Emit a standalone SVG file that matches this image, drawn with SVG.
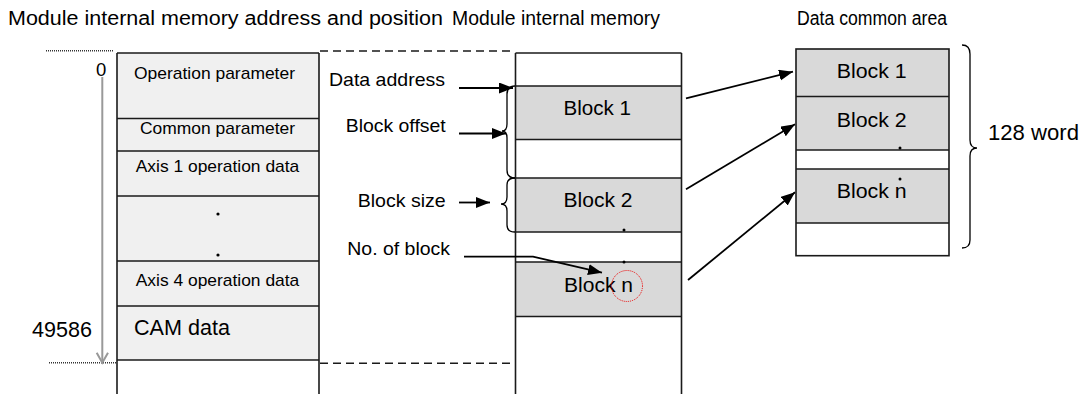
<svg xmlns="http://www.w3.org/2000/svg" width="1083" height="394" viewBox="0 0 1083 394">
<style>
  text { font-family: "Liberation Sans", Arial, sans-serif; fill: #000; }
  .title { font-size: 19.5px; }
  .lt { font-size: 17px; }
  .lbl { font-size: 18.5px; }
  .blk { font-size: 20.5px; }
  .big { font-size: 21.5px; }
  .box { stroke: #1a1a1a; stroke-width: 1.6; }
  .ln { stroke: #1a1a1a; stroke-width: 1.6; fill: none; }
  .lgt { fill: #f0f0f0; }
  .gry { fill: #d9d9d9; }
  .wht { fill: #ffffff; }
  .dash { stroke: #1a1a1a; stroke-width: 1.6; stroke-dasharray: 8 5; fill: none; }
  .dot { stroke: #333; stroke-width: 1.6; stroke-dasharray: 1 1; fill: none; }
  .arr { stroke: #000; stroke-width: 1.8; fill: none; marker-end: url(#ah); }
  .brace { stroke: #000; stroke-width: 1.3; fill: none; }
</style>
<defs>
  <marker id="ah" markerUnits="userSpaceOnUse" markerWidth="15" markerHeight="12" refX="14" refY="5.5" orient="auto">
    <path d="M0,0 L14,5.5 L0,11 Z" fill="#000"/>
  </marker>
</defs>
<rect x="0" y="0" width="1083" height="394" fill="#fff"/>

<g id="titles">
  <text class="title" x="8" y="25" textLength="435" lengthAdjust="spacingAndGlyphs">Module internal memory address and position</text>
  <text class="title" x="452" y="25" textLength="208" lengthAdjust="spacingAndGlyphs">Module internal memory</text>
  <text class="title" x="797" y="25" textLength="150" lengthAdjust="spacingAndGlyphs">Data common area</text>
</g>

<g id="address-scale">
  <line class="dot" x1="46" y1="50.7" x2="114" y2="50.7"/>
  <line class="dot" x1="49" y1="362.7" x2="117" y2="362.7"/>
  <line x1="102.3" y1="77" x2="102.3" y2="362" stroke="#999" stroke-width="2"/>
  <polyline points="96.7,352.7 102.3,362.7 108,352.7" stroke="#999" stroke-width="2" fill="none"/>
  <text x="96" y="76" font-size="18.5" fill="#555">0</text>
  <text class="big" x="32" y="336.5" textLength="60" lengthAdjust="spacingAndGlyphs">49586</text>
</g>

<g id="module-memory-map">
  <rect class="lgt" x="117" y="53" width="202" height="307"/>
  <line class="ln" x1="117" y1="53" x2="117" y2="394"/>
  <line class="ln" x1="319" y1="53" x2="319" y2="394"/>
  <line class="ln" x1="117" y1="53" x2="319" y2="53"/>
  <line class="ln" x1="117" y1="118.5" x2="319" y2="118.5"/>
  <line class="ln" x1="117" y1="151" x2="319" y2="151"/>
  <line class="ln" x1="117" y1="196" x2="319" y2="196"/>
  <line class="ln" x1="117" y1="261" x2="319" y2="261"/>
  <line class="ln" x1="117" y1="306" x2="319" y2="306"/>
  <line class="ln" x1="117" y1="360" x2="319" y2="360"/>
  <text class="lt" x="134" y="79" textLength="161" lengthAdjust="spacingAndGlyphs">Operation parameter</text>
  <text class="lt" x="140" y="134" textLength="155" lengthAdjust="spacingAndGlyphs">Common parameter</text>
  <text class="lt" x="135.7" y="171.7" textLength="163.6" lengthAdjust="spacingAndGlyphs">Axis 1 operation data</text>
  <circle cx="218" cy="214" r="1.6" fill="#000"/>
  <circle cx="218" cy="255" r="1.6" fill="#000"/>
  <text class="lt" x="135.7" y="286" textLength="163.6" lengthAdjust="spacingAndGlyphs">Axis 4 operation data</text>
  <text class="big" x="134" y="335" textLength="96" lengthAdjust="spacingAndGlyphs">CAM data</text>
</g>

<g id="projection">
  <line class="dash" x1="320" y1="51" x2="514" y2="51"/>
  <line class="dash" x1="320" y1="363.3" x2="515" y2="363.3"/>
</g>

<g id="module-internal-memory">
  <rect class="gry" x="515.5" y="86" width="166" height="53.5"/>
  <rect class="gry" x="515.5" y="178" width="166" height="54"/>
  <rect class="gry" x="515.5" y="262" width="166" height="54.5"/>
  <line class="ln" x1="515.5" y1="53" x2="515.5" y2="394"/>
  <line class="ln" x1="681.5" y1="53" x2="681.5" y2="394"/>
  <line class="ln" x1="515.5" y1="53" x2="681.5" y2="53"/>
  <line class="ln" x1="515.5" y1="86" x2="681.5" y2="86"/>
  <line class="ln" x1="515.5" y1="139.5" x2="681.5" y2="139.5"/>
  <line class="ln" x1="515.5" y1="178" x2="681.5" y2="178"/>
  <line class="ln" x1="515.5" y1="232" x2="681.5" y2="232"/>
  <line class="ln" x1="515.5" y1="262" x2="681.5" y2="262"/>
  <line class="ln" x1="515.5" y1="316.5" x2="681.5" y2="316.5"/>
  <text class="blk" x="563.5" y="115" textLength="67.5" lengthAdjust="spacingAndGlyphs">Block 1</text>
  <text class="blk" x="563.5" y="206.7" textLength="69" lengthAdjust="spacingAndGlyphs">Block 2</text>
  <text class="blk" x="564" y="291.7" textLength="69" lengthAdjust="spacingAndGlyphs">Block n</text>
  <circle cx="624" cy="230" r="1.5" fill="#000"/>
  <circle cx="624" cy="262" r="1.5" fill="#000"/>
  <circle cx="627" cy="286" r="15.5" fill="none" stroke="#e00" stroke-width="1" stroke-dasharray="1 1"/>
</g>

<g id="labels">
  <text class="lbl" x="329" y="86" textLength="116" lengthAdjust="spacingAndGlyphs">Data address</text>
  <text class="lbl" x="345.7" y="131.7" textLength="100" lengthAdjust="spacingAndGlyphs">Block offset</text>
  <text class="lbl" x="357.7" y="206.7" textLength="88" lengthAdjust="spacingAndGlyphs">Block size</text>
  <text class="lbl" x="347.3" y="255" textLength="102.7" lengthAdjust="spacingAndGlyphs">No. of block</text>
</g>

<g id="data-common-area">
  <rect class="gry" x="796" y="49" width="153" height="101"/>
  <rect class="gry" x="796" y="169" width="153" height="54"/>
  <rect class="wht" x="796" y="150" width="153" height="19"/>
  <rect class="wht" x="796" y="223" width="153" height="32.7"/>
  <rect x="796" y="49" width="153" height="206.7" fill="none" class="box"/>
  <line class="ln" x1="796" y1="96.5" x2="949" y2="96.5"/>
  <line class="ln" x1="796" y1="150" x2="949" y2="150"/>
  <line class="ln" x1="796" y1="169" x2="949" y2="169"/>
  <line class="ln" x1="796" y1="223" x2="949" y2="223"/>
  <text class="blk" x="836.7" y="78.3" textLength="70" lengthAdjust="spacingAndGlyphs">Block 1</text>
  <text class="blk" x="836.7" y="126.7" textLength="70" lengthAdjust="spacingAndGlyphs">Block 2</text>
  <text class="blk" x="836.7" y="198.3" textLength="70" lengthAdjust="spacingAndGlyphs">Block n</text>
  <circle cx="900" cy="148" r="1.5" fill="#000"/>
  <circle cx="900" cy="179" r="1.5" fill="#000"/>
  <path class="brace" d="M962,45 Q970,45 970,54 L970,140 Q970,148 977,148 Q970,148 970,156 L970,240 Q970,248 962,248"/>
  <text class="big" x="988" y="140" textLength="91" lengthAdjust="spacingAndGlyphs">128 word</text>
</g>

<g id="connectors">
  <line class="arr" x1="459" y1="88" x2="513" y2="88"/>
  <line class="arr" x1="459" y1="133.5" x2="506" y2="133.5"/>
  <line class="arr" x1="459" y1="202.5" x2="490" y2="202.5"/>
  <polyline class="arr" points="464,256.7 533,256.7 602,272.7"/>
  <path class="brace" d="M515,86 Q507,86 507,94 L507,124 Q507,131 502,131 Q507,131 507,138 L507,170 Q507,178 515,178"/>
  <path class="brace" d="M515,178 Q507,178 507,185 L507,197 Q507,204 501,204 Q507,204 507,211 L507,225 Q507,232 515,232"/>
  <line class="arr" x1="686" y1="98.3" x2="793" y2="71.7"/>
  <line class="arr" x1="686" y1="189.3" x2="795" y2="124.3"/>
  <line class="arr" x1="688" y1="280" x2="795" y2="192.3"/>
</g>
</svg>
